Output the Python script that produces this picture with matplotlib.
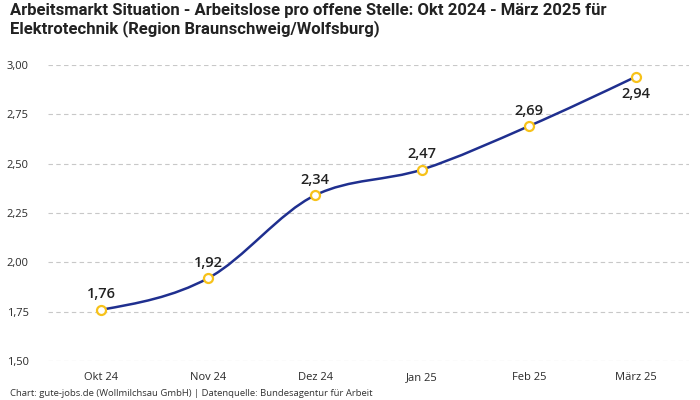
import matplotlib.pyplot as plt
import numpy as np
from matplotlib.path import Path
from matplotlib.patches import PathPatch

months = ["Okt 24", "Nov 24", "Dez 24", "Jan 25", "Feb 25", "März 25"]
values = [1.76, 1.92, 2.34, 2.47, 2.69, 2.94]
y_ticks = [1.50, 1.75, 2.00, 2.25, 2.50, 2.75, 3.00]

title = ("Arbeitsmarkt Situation - Arbeitslose pro offene Stelle: Okt 2024 - März 2025 für\n"
         "Elektrotechnik (Region Braunschweig/Wolfsburg)")
footer = "Chart: gute-jobs.de (Wollmilchsau GmbH) | Datenquelle: Bundesagentur für Arbeit"

line_color = "#1f2f8f"
marker_edge = "#f7c21a"
text_color = "#222222"


def monotone_path(xs, ys):
    # cubic bezier segments with monotone tangents (like d3 curveMonotoneX)
    xs = np.asarray(xs, float)
    ys = np.asarray(ys, float)
    h = np.diff(xs)
    s = np.diff(ys) / h
    n = len(xs)
    t = np.zeros(n)
    for i in range(1, n - 1):
        if s[i - 1] * s[i] > 0:
            p = (s[i - 1] * h[i] + s[i] * h[i - 1]) / (h[i - 1] + h[i])
            t[i] = np.sign(s[i - 1]) * min(abs(s[i - 1]), abs(s[i]), 0.5 * abs(p)) * 2
            if abs(t[i]) > abs(p):
                t[i] = p
    t[0] = (3 * s[0] - t[1]) / 2
    t[-1] = (3 * s[-1] - t[-2]) / 2
    verts = [(xs[0], ys[0])]
    codes = [Path.MOVETO]
    for i in range(n - 1):
        d = h[i] / 3
        verts += [(xs[i] + d, ys[i] + d * t[i]),
                  (xs[i + 1] - d, ys[i + 1] - d * t[i + 1]),
                  (xs[i + 1], ys[i + 1])]
        codes += [Path.CURVE4] * 3
    return Path(verts, codes)


fig = plt.figure(figsize=(7, 4), dpi=100)
ax = fig.add_axes([48 / 700, 1 - 361 / 400, 641 / 700, 296 / 400])

x = np.arange(len(months))
ax.set_xlim(-0.5, len(months) - 0.5)
ax.set_ylim(1.5, 3.0)

ax.add_patch(PathPatch(monotone_path(x, values), facecolor="none",
                       edgecolor=line_color, lw=1.8, zorder=3))
ax.scatter(x, values, s=42, facecolor="white", edgecolor=marker_edge,
           linewidths=1.6, zorder=4)

for i, v in enumerate(values):
    lbl = f"{v:.2f}".replace(".", ",")
    last = i == len(values) - 1
    ax.annotate(lbl, (i, v), xytext=(0, -7 if last else 6),
                textcoords="offset points", ha="center",
                va="top" if last else "bottom", fontsize=10.5,
                fontweight="semibold", color=text_color, family="Open Sans")

ax.set_xticks(x)
ax.set_xticklabels(months)
ax.set_yticks(y_ticks)
ax.set_yticklabels([f"{t:.2f}".replace(".", ",") for t in y_ticks])
ax.tick_params(length=0, labelsize=8, colors="#2a2a2a", pad=14)
ax.tick_params(axis="x", pad=8)
for lab in ax.get_xticklabels() + ax.get_yticklabels():
    lab.set_family("Open Sans")

ax.grid(axis="y", color="#c8c8c8", linestyle=(0, (4, 3)), lw=0.8)
ax.set_axisbelow(True)
for sp in ax.spines.values():
    sp.set_visible(False)

fig.text(10 / 700, 1 - 3 / 400, title, ha="left", va="top", fontsize=12,
         fontweight="bold", color=text_color, family="Roboto",
         linespacing=1.15)
fig.text(10 / 700, 1 - 393 / 400, footer, ha="left", va="center", fontsize=6.8,
         color="#333333", family="Open Sans")

fig.savefig("out.png", dpi=100)
